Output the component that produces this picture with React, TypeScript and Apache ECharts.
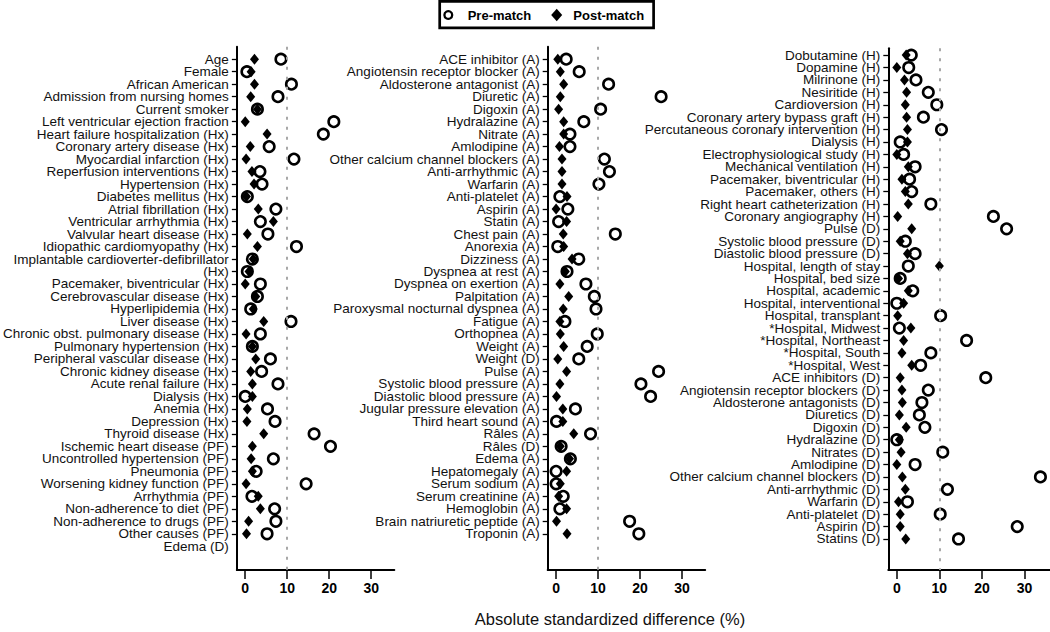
import React, { useEffect, useRef } from "react";
import * as echarts from "echarts";

const FONT = "'Liberation Sans', Arial, Helvetica, sans-serif";

// ---------- Panel 1 ----------
const labels1 = [
  "Age", "Female", "African American", "Admission from nursing homes", "Current smoker",
  "Left ventricular ejection fraction", "Heart failure hospitalization (Hx)", "Coronary artery disease (Hx)",
  "Myocardial infarction (Hx)", "Reperfusion interventions (Hx)", "Hypertension (Hx)", "Diabetes mellitus (Hx)",
  "Atrial fibrillation (Hx)", "Ventricular arrhythmia (Hx)", "Valvular heart disease (Hx)",
  "Idiopathic cardiomyopathy (Hx)", "Implantable cardioverter-defibrillator", "(Hx)",
  "Pacemaker, biventricular (Hx)", "Cerebrovascular disease (Hx)", "Hyperlipidemia (Hx)", "Liver disease (Hx)",
  "Chronic obst. pulmonary disease (Hx)", "Pulmonary hypertension (Hx)", "Peripheral vascular disease (Hx)",
  "Chronic kidney disease (Hx)", "Acute renal failure (Hx)", "Dialysis (Hx)", "Anemia (Hx)", "Depression (Hx)",
  "Thyroid disease (Hx)", "Ischemic heart disease (PF)", "Uncontrolled hypertension (PF)", "Pneumonia (PF)",
  "Worsening kidney function (PF)", "Arrhythmia (PF)", "Non-adherence to diet (PF)",
  "Non-adherence to drugs (PF)", "Other causes (PF)", "Edema (D)",
];
const pre1 = [
  8.5, 0.4, 11.0, 7.8, 2.9, 21.1, 18.6, 5.7, 11.6, 3.5, 4.0, 0.5, 7.3, 3.6, 5.4, 12.2, 1.7, 0.5, 3.6, 2.9,
  1.3, 10.9, 3.6, 1.7, 6.0, 3.9, 7.8, 0.0, 5.3, 7.1, 16.4, 20.3, 6.7, 2.6, 14.5, 1.6, 7.0, 7.3, 5.2,
];
const post1 = [
  2.2, 1.4, 2.2, 1.3, 2.9, 0.0, 5.2, 1.2, 0.2, 1.6, 2.1, 0.3, 3.1, 6.7, 0.5, 2.9, 1.9, 0.9, 0.0, 2.5,
  1.9, 4.4, 0.2, 1.7, 2.5, 1.3, 1.7, 1.7, 0.5, 0.4, 4.4, 1.7, 1.4, 1.7, 0.2, 3.1, 3.6, 0.8, 0.3,
];

// ---------- Panel 2 ----------
const labels2 = [
  "ACE inhibitor (A)", "Angiotensin receptor blocker (A)", "Aldosterone antagonist (A)", "Diuretic (A)",
  "Digoxin (A)", "Hydralazine (A)", "Nitrate (A)", "Amlodipine (A)", "Other calcium channel blockers (A)",
  "Anti-arrhythmic (A)", "Warfarin (A)", "Anti-platelet (A)", "Aspirin (A)", "Statin (A)", "Chest pain (A)",
  "Anorexia (A)", "Dizziness (A)", "Dyspnea at rest (A)", "Dyspnea on exertion (A)", "Palpitation (A)",
  "Paroxysmal nocturnal dyspnea (A)", "Fatigue (A)", "Orthopnea (A)", "Weight (A)", "Weight (D)", "Pulse (A)",
  "Systolic blood pressure (A)", "Diastolic blood pressure (A)", "Jugular pressure elevation (A)",
  "Third heart sound (A)", "Râles (A)", "Râles (D)", "Edema (A)", "Hepatomegaly (A)", "Serum sodium (A)",
  "Serum creatinine (A)", "Hemoglobin (A)", "Brain natriuretic peptide (A)", "Troponin (A)",
];
const pre2 = [
  2.4, 5.5, 12.5, 25.0, 10.6, 6.6, 3.3, 3.3, 11.5, 12.7, 10.2, 0.9, 2.8, 0.6, 14.1, 0.4, 5.4, 2.6, 7.1, 9.1,
  9.5, 2.1, 9.8, 7.4, 5.4, 24.4, 20.2, 22.5, 4.6, 0.1, 8.2, 1.2, 3.4, 0.0, 0.0, 1.7, 0.9, 17.5, 19.7,
];
const post2 = [
  0.4, 1.0, 1.8, 1.0, 0.6, 1.8, 1.8, 0.8, 1.4, 1.4, 1.4, 2.6, 0.0, 2.5, 1.7, 1.8, 3.8, 2.2, 0.9, 3.0,
  1.7, 0.9, 1.0, 1.8, 0.4, 2.5, 0.9, 0.1, 1.6, 1.6, 4.2, 1.0, 3.2, 2.5, 1.0, 0.6, 2.5, 0.1, 2.6,
];

// ---------- Panel 3 ----------
const labels3 = [
  "Dobutamine (H)", "Dopamine (H)", "Milrinone (H)", "Nesiritide (H)", "Cardioversion (H)",
  "Coronary artery bypass graft (H)", "Percutaneous coronary intervention (H)", "Dialysis (H)",
  "Electrophysiological study (H)", "Mechanical ventilation (H)", "Pacemaker, biventricular (H)",
  "Pacemaker, others (H)", "Right heart catheterization (H)", "Coronary angiography (H)", "Pulse (D)",
  "Systolic blood pressure (D)", "Diastolic blood pressure (D)", "Hospital, length of stay",
  "Hospital, bed size", "Hospital, academic", "Hospital, interventional", "Hospital, transplant",
  "*Hospital, Midwest", "*Hospital, Northeast", "*Hospital, South", "*Hospital, West", "ACE inhibitors (D)",
  "Angiotensin receptor blockers (D)", "Aldosterone antagonists (D)", "Diuretics (D)", "Digoxin (D)",
  "Hydralazine (D)", "Nitrates (D)", "Amlodipine (D)", "Other calcium channel blockers (D)",
  "Anti-arrhythmic (D)", "Warfarin (D)", "Anti-platelet (D)", "Aspirin (D)", "Statins (D)",
];
const pre3 = [
  3.4, 2.8, 4.5, 7.4, 9.4, 6.25, 10.5, 0.8, 1.6, 4.3, 3.0, 3.5, 8.0, 22.7, 25.8, 2.0, 4.3, 2.7, 0.8, 3.75,
  0.0, 10.3, 0.6, 16.4, 8.0, 5.6, 20.9, 7.4, 5.9, 5.3, 6.6, 0.0, 10.8, 4.3, 33.75, 11.9, 2.5, 10.2, 28.3, 14.5,
];
const post3 = [
  2.2, 0.0, 1.8, 2.3, 2.0, 2.3, 2.5, 2.5, 0.0, 2.7, 1.2, 2.0, 2.7, 0.2, 3.5, 0.8, 2.5, 10.0, 0.4, 2.7,
  1.6, 0.2, 3.3, 1.6, 1.2, 3.5, 0.8, 1.2, 1.3, 0.6, 2.2, 0.6, 1.0, 0.0, 1.3, 2.0, 0.4, 0.8, 0.8, 2.1,
];

const xTickValues = [0, 10, 20, 30];
const xTitle = "Absolute standardized difference (%)";
const legendPre = "Pre-match";
const legendPost = "Post-match";

type Panel = {
  labels: string[];
  pre: number[];
  post: number[];
  grid: { left: number; top: number; width: number; height: number };
  xMin: number;
  xMax: number;
  yMin: number;
  yMax: number;
};

const panels: Panel[] = [
  { labels: labels1, pre: pre1, post: post1, grid: { left: 234.3, top: 46.7, width: 160, height: 523.3 }, xMin: -2, xMax: 35.5, yMin: -1, yMax: 40.9 },
  { labels: labels2, pre: pre2, post: post2, grid: { left: 547.7, top: 46.7, width: 157.5, height: 523.3 }, xMin: -2, xMax: 35.5, yMin: -1, yMax: 40.9 },
  { labels: labels3, pre: pre3, post: post3, grid: { left: 888.3, top: 48.3, width: 162, height: 521.7 }, xMin: -2, xMax: 36, yMin: -0.55, yMax: 41.5 },
];

export default function App() {
  const ref = useRef<HTMLDivElement>(null);

  useEffect(() => {
    if (!ref.current) return;
    const chart = echarts.init(ref.current, null, { renderer: "svg" });

    const grids = panels.map((p) => ({ ...p.grid, containLabel: false }));
    const xAxes = panels.map((p, i) => ({
      gridIndex: i,
      type: "value",
      min: p.xMin,
      max: p.xMax,
      axisLine: { show: true, onZero: false, lineStyle: { color: "#000", width: 2 } },
      axisTick: { show: true, customValues: xTickValues, length: 9, lineStyle: { color: "#000", width: 1.5 } },
      axisLabel: {
        customValues: xTickValues,
        fontSize: 14,
        fontWeight: "bold",
        fontFamily: FONT,
        color: "#000",
        margin: 11,
        showMinLabel: true,
        showMaxLabel: true,
      },
      splitLine: { show: false },
    }));
    const yAxes = panels.map((p, i) => {
      // dummy entries at the axis ends absorb ECharts' min/max label hiding
      const labelIdx = [p.yMin, ...p.labels.map((_, k) => k), p.yMax];
      const tickIdx = [p.yMin, ...p.pre.map((_, k) => k), p.yMax];
      return {
        gridIndex: i,
        type: "value",
        inverse: true,
        min: p.yMin,
        max: p.yMax,
        axisLine: { show: true, onZero: false, lineStyle: { color: "#000", width: 2 } },
        axisTick: { show: true, customValues: tickIdx, length: 5, lineStyle: { color: "#000", width: 1.3 } },
        axisLabel: {
          customValues: labelIdx,
          formatter: (v: number) => (Number.isInteger(v) ? p.labels[v] ?? "" : ""),
          fontSize: 13.5,
          fontFamily: FONT,
          color: "#111",
          margin: 8,
          showMinLabel: false,
          showMaxLabel: false,
          hideOverlap: false,
        },
        splitLine: { show: false },
      };
    });

    const series: any[] = [];
    panels.forEach((p, i) => {
      series.push({
        type: "scatter",
        name: legendPre,
        xAxisIndex: i,
        yAxisIndex: i,
        symbol: "circle",
        symbolSize: 10.5,
        itemStyle: { color: "rgba(0,0,0,0)", borderColor: "#000", borderWidth: 2.6, opacity: 1 },
        data: p.pre.map((v, k) => [v, k]),
        z: 3,
        markLine: {
          silent: true,
          symbol: "none",
          label: { show: false },
          lineStyle: { color: "#a8a8a8", type: [3, 7], width: 2 },
          data: [{ xAxis: 10 }],
        },
      });
      series.push({
        type: "scatter",
        name: legendPost,
        xAxisIndex: i,
        yAxisIndex: i,
        symbol: "diamond",
        symbolSize: [9, 11],
        itemStyle: { color: "#000", opacity: 1 },
        data: p.post.map((v, k) => [v, k]),
        z: 4,
      });
    });

    const option: any = {
      animation: false,
      backgroundColor: "#fff",
      grid: grids,
      xAxis: xAxes,
      yAxis: yAxes,
      series,
      graphic: [
        {
          type: "rect",
          shape: { x: 439.7, y: 1.35, width: 213.9, height: 26.6 },
          style: { fill: "#fff", stroke: "#000", lineWidth: 2.7 },
        },
        {
          type: "circle",
          shape: { cx: 448.3, cy: 15, r: 3.9 },
          style: { fill: "none", stroke: "#000", lineWidth: 2.3 },
        },
        {
          type: "polygon",
          shape: { points: [[556.7, 8.8], [562.2, 15], [556.7, 21.2], [551.2, 15]] },
          style: { fill: "#000" },
        },
        {
          type: "text",
          x: 467.7,
          y: 15,
          style: { text: legendPre, fontSize: 13, fontWeight: "bold", fontFamily: FONT, fill: "#000", align: "left", verticalAlign: "middle" },
        },
        {
          type: "text",
          x: 573.3,
          y: 15,
          style: { text: legendPost, fontSize: 13, fontWeight: "bold", fontFamily: FONT, fill: "#000", align: "left", verticalAlign: "middle" },
        },
        {
          type: "text",
          x: 610,
          y: 619,
          style: { text: xTitle, fontSize: 16.5, fontFamily: FONT, fill: "#111", align: "center", verticalAlign: "middle" },
        },
      ],
    };

    chart.setOption(option);
    return () => chart.dispose();
  }, []);

  return (
    <div
      ref={ref}
      style={{ position: "fixed", left: 0, top: 0, width: 1050, height: 632, background: "#fff" }}
    />
  );
}
